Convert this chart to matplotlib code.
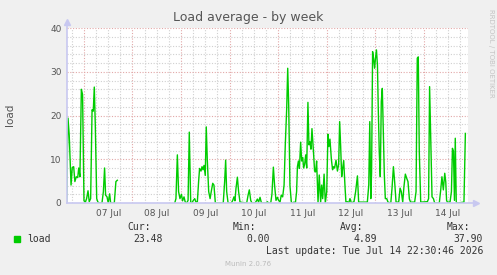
import matplotlib
matplotlib.use("Agg")
import matplotlib.pyplot as plt
import numpy as np

# hours since 07 Jul 00:00, load values (NaN = no data)
hours = [-8.6, -7.9, -7.3, -6.4, -5.8, -5.1, -4.5, -3.8, -3.1, -2.6, -2.0, -1.3, -0.7,
         0.0, 0.7, 1.3, 2.0, 2.6, 3.3, 4.0, 4.6, 5.1, 5.6, 6.3, 6.9, 7.6, 8.9, 9.6, 10.2,
         10.7, 11.4, 12.0, 12.7, 13.2, 15.0, 15.8, 16.5,
         30.0,
         44.9, 45.5, 46.2, 46.8, 47.5, 48.2, 48.8, 49.5, 50.1, 50.8, 51.5, 52.1, 52.8, 53.4,
         54.1, 54.8, 55.4, 56.1, 56.7, 57.2, 57.9, 58.4, 58.9, 59.4, 60.0, 60.5, 61.0, 61.7,
         62.4, 63.0, 63.7, 64.3, 65.0, 66.0, 68.9, 69.6, 70.1, 70.6, 71.3, 72.9, 73.6, 74.2,
         74.7, 75.2, 75.9, 76.5, 77.2, 80.5, 81.2, 81.8, 82.5, 83.1, 84.5, 85.1, 85.8, 86.4,
         87.1, 87.8, 90.1, 90.7, 91.4, 92.4, 93.0, 93.7, 94.3, 95.0, 95.7, 96.3, 97.0, 97.6,
         98.3, 99.0, 99.6, 100.3, 100.8, 101.3, 101.9, 102.6, 103.3, 103.9, 104.6, 105.2,
         105.6, 106.1, 106.6, 107.2, 107.7, 108.2, 108.7, 109.2, 109.7, 110.2, 110.8, 111.3,
         111.8, 112.3, 112.8, 113.5, 114.1, 114.6, 115.1, 115.8, 116.4, 117.1, 117.6, 118.1,
         118.8, 119.4, 120.1, 120.7, 121.2, 121.7, 122.4, 123.0, 123.5, 124.0, 124.7, 125.4,
         126.0, 126.5, 127.0, 127.5, 128.0, 128.5, 129.2, 129.6, 130.3, 131.0, 131.6, 132.3,
         133.6, 134.4, 135.3, 135.9, 140.2, 140.9, 141.4, 141.9, 142.3, 142.8, 143.3, 143.8,
         144.2, 144.7, 145.2, 145.6, 146.1, 146.6, 147.1, 147.6, 148.1, 148.6, 149.1, 149.8,
         150.4, 151.8, 152.4, 153.1, 153.7, 154.4, 155.7, 156.4, 157.0, 157.7, 158.3, 159.0,
         159.7, 160.3, 161.0, 161.6, 163.6, 164.3, 164.9, 165.4, 165.9, 166.6, 169.9, 170.5,
         171.0, 171.4, 172.2, 172.9, 173.5, 175.8, 176.5, 177.1, 177.8, 178.5, 179.0, 179.4,
         179.8, 181.1, 181.8, 182.3, 182.8, 183.3, 183.7, 184.2, 184.7, 188.0, 188.7]
load = [0.0, 19.4, 15.5, 4.1, 8.1, 8.3, 4.9, 6.0, 5.8, 8.0, 6.0, 26.0, 24.8,
        0.5, 0.2, 1.0, 2.8, 0.3, 1.0, 21.3, 21.0, 26.5, 17.8, 1.0, 0.2, 0.0, 0.0, 2.6, 8.0,
        1.8, 1.4, 0.0, 2.1, 0.0, 0.0, 4.9, 5.2,
        np.nan,
        0.0, 1.0, 11.0, 2.6, 1.0, 2.0, 0.5, 1.4, 0.2, 0.0, 0.6, 16.2, 0.2, 0.0,
        0.6, 1.0, 0.2, 0.3, 4.8, 7.9, 7.3, 8.3, 7.6, 8.6, 6.3, 17.4, 10.0, 2.6,
        1.0, 2.7, 4.5, 4.1, 0.0, 0.0, 0.0, 4.9, 9.8, 2.6, 0.0, 0.0, 0.6, 1.4,
        0.5, 3.3, 5.9, 2.6, 0.2, 0.0, 1.8, 3.0, 0.6, 0.0, 0.0, 0.3, 0.9, 0.2,
        1.3, 0.0, 0.0, 0.3, 0.0, 0.0, 2.0, 8.2, 4.1, 0.6, 1.3, 0.6, 0.2, 1.8,
        1.4, 4.1, 13.3, 21.6, 30.8, 22.0, 4.0, 0.2, 0.0, 0.2, 0.0, 2.6,
        8.3, 9.6, 7.9, 13.9, 9.6, 10.4, 8.0, 8.9, 11.0, 8.0, 23.0, 13.3,
        14.0, 12.3, 17.0, 12.0, 7.3, 7.1, 9.6, 0.2, 6.4, 0.2, 4.1, 1.0,
        6.6, 0.0, 2.6, 15.7, 12.9, 14.6, 10.0, 7.6, 8.3, 8.0, 9.8, 7.3,
        8.8, 18.6, 12.9, 6.0, 8.0, 9.7, 3.3, 0.2, 0.3, 0.0, 1.0, 0.0,
        0.3, 2.6, 6.2, 0.2, 0.2, 4.1, 18.6, 1.0, 7.0, 34.6, 32.9, 30.8,
        33.0, 35.0, 31.5, 21.6, 11.6, 6.0, 23.2, 26.2, 16.2, 6.4, 1.0, 1.0,
        0.2, 0.0, 3.3, 8.3, 4.9, 0.2, 0.2, 3.4, 2.6, 0.2, 3.7, 6.6,
        5.6, 4.9, 0.9, 0.2, 0.2, 2.6, 33.1, 33.4, 11.7, 0.2, 0.3, 1.0,
        26.6, 18.0, 1.4, 1.0, 0.0, 0.0, 3.0, 6.0, 3.0, 6.8, 4.8, 0.6,
        0.2, 0.2, 2.6, 12.5, 11.8, 0.6, 14.8, 0.2, 0.0, 0.2, 15.9]

day_labels = ["07 Jul", "08 Jul", "09 Jul", "10 Jul", "11 Jul", "12 Jul", "13 Jul", "14 Jul"]
stats_heads = ["Cur:", "Min:", "Avg:", "Max:"]
stats_vals = ["23.48", "0.00", "4.89", "37.90"]

W, H = 497, 275
fig = plt.figure(figsize=(W / 100, H / 100), dpi=100)
fig.patch.set_facecolor("#F0F0F0")
ax = fig.add_axes([67 / W, (H - 203) / H, 401 / W, 175 / H])
ax.set_facecolor("white")

x0, x1 = -8.4, 190.0
ax.set_xlim(x0, x1)
ax.set_ylim(0, 40)

# grid: minor grey every 6h / 2 units, major red every day / 10 units
for h in np.arange(-6, x1, 6):
    major = h % 24 == 0
    ax.axvline(h, color="#E2A8A8" if major else "#D0D0D0", lw=0.8,
               ls=(0, (1, 1.5)), zorder=1)
for v in np.arange(2, 41, 2):
    major = v % 10 == 0
    ax.axhline(v, color="#E2A8A8" if major else "#D0D0D0", lw=0.8,
               ls=(0, (1, 1.5)), zorder=1)

ax.plot(hours, load, color="#00CC00", lw=1.0, zorder=3)

for s in ax.spines.values():
    s.set_visible(False)
ax.tick_params(length=0, colors="#555555", labelsize=6.5, pad=4)
ax.set_yticks([0, 10, 20, 30, 40])
ax.set_xticks([12 + 24 * i for i in range(len(day_labels))])
ax.set_xticklabels(day_labels)

# axis lines with arrows
axis_col = "#C8C8F0"
ax.plot([0, 0], [0, 1.03], color=axis_col, lw=1.2, transform=ax.transAxes, clip_on=False, zorder=4)
ax.plot([0, 1.015], [0, 0], color=axis_col, lw=1.2, transform=ax.transAxes, clip_on=False, zorder=4)
ax.plot([0], [1.035], marker="^", ms=5, color=axis_col, transform=ax.transAxes, clip_on=False)
ax.plot([1.02], [0], marker=">", ms=5, color=axis_col, transform=ax.transAxes, clip_on=False)

fig.text(248 / W, 1 - 18 / H, "Load average - by week", ha="center", va="center",
         fontsize=9, color="#555555")
fig.text(10 / W, 1 - 115 / H, "load", rotation=90, ha="center", va="center",
         fontsize=7.5, color="#555555")
fig.text(491 / W, 1 - 53 / H, "RRDTOOL / TOBI OETIKER", rotation=270, ha="center",
         va="center", fontsize=5, color="#C4C4C4")

mono = "DejaVu Sans Mono"
fig.patches.append(plt.Rectangle((14 / W, 1 - 242 / H), 6 / W, 6 / H, color="#00CC00",
                                 transform=fig.transFigure, figure=fig))
fig.text(27 / W, 1 - 239 / H, "load", family=mono, fontsize=7, color="#333333", va="center")
head_x = [127, 233, 340, 447]
val_x = [133, 246, 353, 453]
for hx, vx, hd, vl in zip(head_x, val_x, stats_heads, stats_vals):
    fig.text(hx / W, 1 - 227 / H, hd, family=mono, fontsize=7, color="#333333", va="center")
    fig.text(vx / W, 1 - 239 / H, vl, family=mono, fontsize=7, color="#333333", va="center")
fig.text(483 / W, 1 - 251 / H, "Last update: Tue Jul 14 22:30:46 2026", family=mono,
         fontsize=7, color="#333333", va="center", ha="right")
fig.text(248 / W, 1 - 264 / H, "Munin 2.0.76", fontsize=5, color="#BBBBBB",
         ha="center", va="center")

fig.savefig("out.png", dpi=100, facecolor=fig.get_facecolor())
